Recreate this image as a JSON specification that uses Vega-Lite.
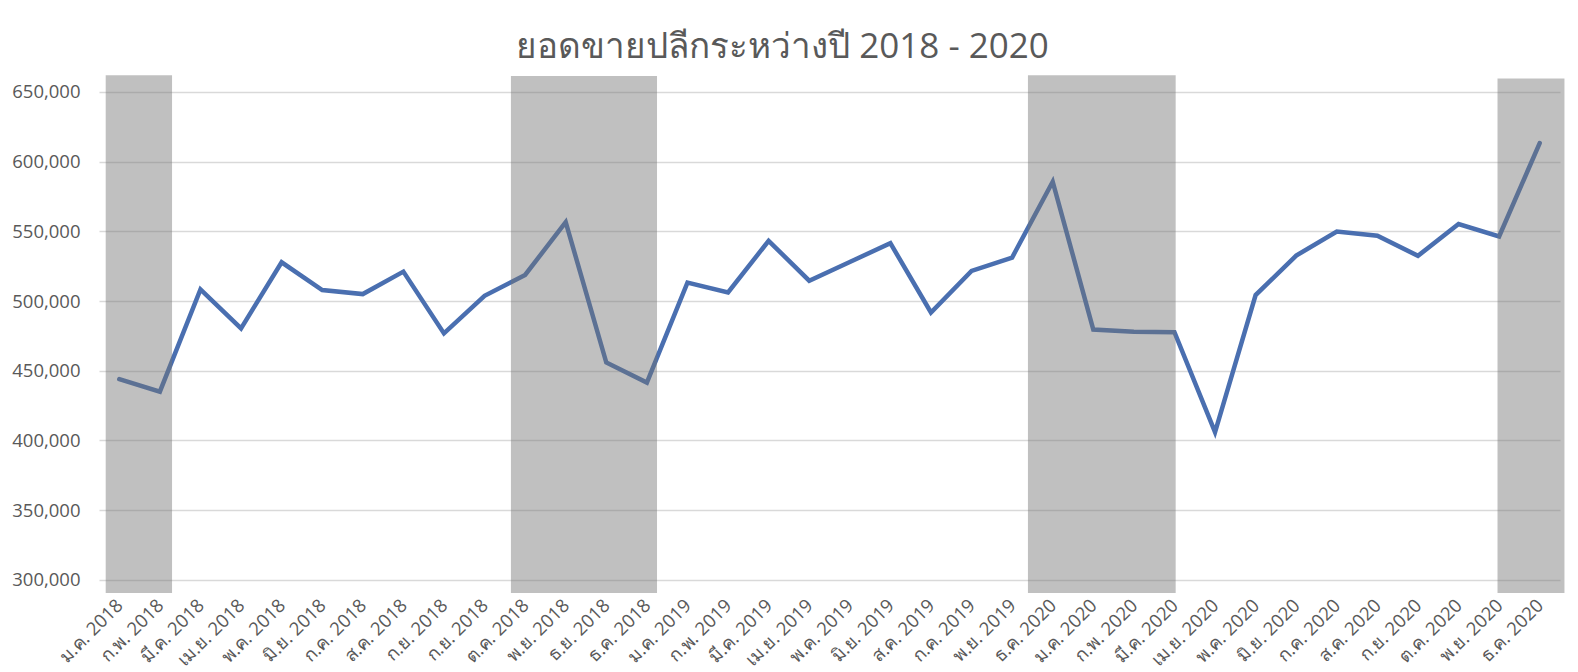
{
  "$schema": "https://vega.github.io/schema/vega-lite/v6.json",
  "width": 1461,
  "height": 522,
  "autosize": "none",
  "padding": {"left": 99, "top": 71, "right": 18, "bottom": 79},
  "background": "white",
  "config": {
    "view": {"stroke": null},
    "font": "Open Sans",
    "axis": {"labelColor": "#595959", "labelFont": "Open Sans", "labelFontSize": 18.5}
  },
  "title": {
    "text": "ยอดขายปลีกระหว่างปี 2018 - 2020",
    "fontSize": 35,
    "fontWeight": "normal",
    "color": "#595959",
    "anchor": "middle",
    "frame": "group",
    "dx": -47,
    "dy": 35,
    "baseline": "alphabetic",
    "offset": 13
  },
  "datasets": {
    "sales": [
      {"i": 0, "month": "ม.ค. 2018", "sales": 444000},
      {"i": 1, "month": "ก.พ. 2018", "sales": 435000},
      {"i": 2, "month": "มี.ค. 2018", "sales": 508400},
      {"i": 3, "month": "เม.ย. 2018", "sales": 480400},
      {"i": 4, "month": "พ.ค. 2018", "sales": 527800},
      {"i": 5, "month": "มิ.ย. 2018", "sales": 507900},
      {"i": 6, "month": "ก.ค. 2018", "sales": 505000},
      {"i": 7, "month": "ส.ค. 2018", "sales": 521100},
      {"i": 8, "month": "ก.ย. 2018", "sales": 476800},
      {"i": 9, "month": "ก.ย. 2018", "sales": 503800},
      {"i": 10, "month": "ต.ค. 2018", "sales": 518700},
      {"i": 11, "month": "พ.ย. 2018", "sales": 556600},
      {"i": 12, "month": "ธ.ย. 2018", "sales": 455900},
      {"i": 13, "month": "ธ.ค. 2018", "sales": 441500},
      {"i": 14, "month": "ม.ค. 2019", "sales": 513200},
      {"i": 15, "month": "ก.พ. 2019", "sales": 506200},
      {"i": 16, "month": "มี.ค. 2019", "sales": 543200},
      {"i": 17, "month": "เม.ย. 2019", "sales": 514600},
      {"i": 18, "month": "พ.ค. 2019", "sales": 528000},
      {"i": 19, "month": "มิ.ย. 2019", "sales": 541500},
      {"i": 20, "month": "ส.ค. 2019", "sales": 491800},
      {"i": 21, "month": "ก.ค. 2019", "sales": 521600},
      {"i": 22, "month": "พ.ย. 2019", "sales": 531200},
      {"i": 23, "month": "ธ.ค. 2020", "sales": 585600},
      {"i": 24, "month": "ม.ค. 2020", "sales": 479600},
      {"i": 25, "month": "ก.พ. 2020", "sales": 477900},
      {"i": 26, "month": "มี.ค. 2020", "sales": 477700},
      {"i": 27, "month": "เม.ย. 2020", "sales": 406000},
      {"i": 28, "month": "พ.ค. 2020", "sales": 504300},
      {"i": 29, "month": "มิ.ย. 2020", "sales": 532600},
      {"i": 30, "month": "ก.ค. 2020", "sales": 549900},
      {"i": 31, "month": "ส.ค. 2020", "sales": 546800},
      {"i": 32, "month": "ก.ย. 2020", "sales": 532400},
      {"i": 33, "month": "ต.ค. 2020", "sales": 555200},
      {"i": 34, "month": "พ.ย. 2020", "sales": 546300},
      {"i": 35, "month": "ธ.ค. 2020", "sales": 613300}
    ],
    "bands": [
      {"start": -0.335, "end": 1.3, "top": 662000},
      {"start": 9.65, "end": 13.25, "top": 661500},
      {"start": 22.39, "end": 26.03, "top": 662000},
      {"start": 33.96, "end": 35.61, "top": 659600}
    ]
  },
  "layer": [
    {
      "data": {"name": "sales"},
      "mark": {"type": "line", "color": "#4A6FB0", "strokeWidth": 4.5, "strokeCap": "round"},
      "encoding": {
        "x": {
          "field": "i",
          "type": "quantitative",
          "title": null,
          "scale": {"domain": [-0.5, 35.5], "nice": false, "zero": false},
          "axis": {
            "values": [0,1,2,3,4,5,6,7,8,9,10,11,12,13,14,15,16,17,18,19,20,21,22,23,24,25,26,27,28,29,30,31,32,33,34,35],
            "labelExpr": "['ม.ค. 2018','ก.พ. 2018','มี.ค. 2018','เม.ย. 2018','พ.ค. 2018','มิ.ย. 2018','ก.ค. 2018','ส.ค. 2018','ก.ย. 2018','ก.ย. 2018','ต.ค. 2018','พ.ย. 2018','ธ.ย. 2018','ธ.ค. 2018','ม.ค. 2019','ก.พ. 2019','มี.ค. 2019','เม.ย. 2019','พ.ค. 2019','มิ.ย. 2019','ส.ค. 2019','ก.ค. 2019','พ.ย. 2019','ธ.ค. 2020','ม.ค. 2020','ก.พ. 2020','มี.ค. 2020','เม.ย. 2020','พ.ค. 2020','มิ.ย. 2020','ก.ค. 2020','ส.ค. 2020','ก.ย. 2020','ต.ค. 2020','พ.ย. 2020','ธ.ค. 2020'][datum.value]",
            "labelAngle": -45,
            "labelAlign": "right",
            "labelBaseline": "middle",
            "labelPadding": 9,
            "labelOverlap": false,
            "labelBound": false,
            "labelFlush": false,
            "grid": false,
            "ticks": false,
            "domain": false
          }
        },
        "y": {
          "field": "sales",
          "type": "quantitative",
          "title": null,
          "scale": {"domain": [290600, 665000], "nice": false, "zero": false},
          "axis": {
            "values": [300000, 350000, 400000, 450000, 500000, 550000, 600000, 650000],
            "format": ",d",
            "grid": true,
            "gridColor": "#D9D9D9",
            "gridWidth": 1.3,
            "ticks": false,
            "domain": false,
            "labelPadding": 19
          }
        }
      }
    },
    {
      "data": {"name": "bands"},
      "mark": {"type": "rect", "color": "#737373", "opacity": 0.45},
      "encoding": {
        "x": {"field": "start", "type": "quantitative"},
        "x2": {"field": "end"},
        "y": {"field": "top", "type": "quantitative"},
        "y2": {"datum": 290600}
      }
    }
  ]
}
